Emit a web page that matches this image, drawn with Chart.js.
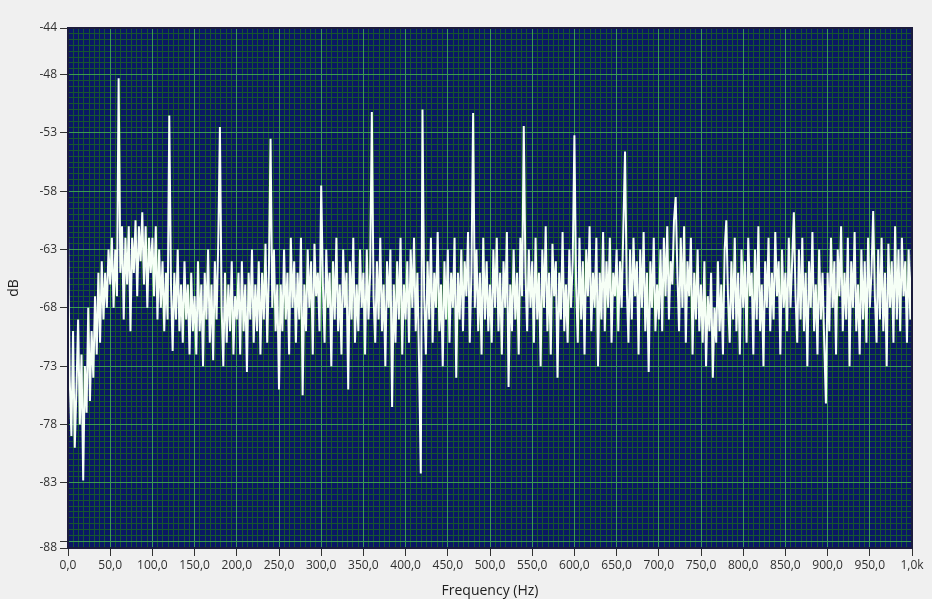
<!DOCTYPE html>
<html>
<head>
<meta charset="utf-8">
<script src="https://cdn.jsdelivr.net/npm/chart.js@4.4.0/dist/chart.umd.min.js"></script>
<style>
body { margin: 0; background: #f0f0f0; }
canvas { display: block; }
</style>
</head>
<body>
<canvas id="spectrumChart" width="932" height="599"></canvas>
<script>
// spectrum bins, 2 Hz apart, one row = 50 Hz
const binHz = 2;
const levelDb = [
    -61.5, -74, -79, -70, -80, -75, -69, -78, -72, -82.8, -73, -77, -68, -76, -70, -74, -67, -72, -65, -71, -64, -69, -65, -68, -63,
    -66, -62, -68, -63, -67, -48.3, -65, -61, -69, -62, -66, -61, -70, -62, -65, -60.5, -67, -61, -64, -59.8, -66, -61, -68, -62, -65,
    -62, -67, -61, -69, -63, -68, -64, -70, -65, -69, -51.5, -66, -71.7, -65, -69, -63, -70, -66, -71, -64, -69, -66, -72, -65, -70,
    -67, -72, -64, -70, -66, -73, -65, -69, -63, -71, -66, -72.5, -64, -69, -62.5, -52.5, -68, -73, -65, -71, -66, -70, -64, -72, -67,
    -69, -65, -72, -64, -70, -66, -73.5, -65, -69, -63, -71, -66, -70, -64, -72, -65, -69, -62.5, -71, -65, -53.5, -68, -63, -70, -66,
    -75, -66, -70, -63, -69, -65, -72, -62, -68, -64, -71, -65, -69, -62, -75.5, -66, -70, -63, -68, -64, -72, -62.5, -67, -65, -70,
    -57.5, -66, -71, -63, -68, -65, -73, -64, -69, -62, -70, -66, -72, -63, -68, -65, -75, -64, -69, -62, -71, -66, -70, -63, -68,
    -65, -72, -63, -69, -65, -51.2, -67, -71, -64, -69, -62, -70, -66, -73, -64, -68, -63, -76.5, -66, -71, -64, -69, -62, -72, -66,
    -69, -64, -71, -63, -68, -62, -70, -65, -73, -82.2, -51, -67, -72, -64, -69, -62, -71, -65, -68, -61.5, -70, -66, -73, -64, -69,
    -63, -71, -65, -68, -62, -74, -65, -69, -63, -70, -64, -67, -61.5, -71, -65, -51.3, -68, -63, -70, -65, -72, -62, -69, -64, -70,
    -66, -71, -63, -68, -62, -70, -65, -72, -64, -68, -61.5, -74.8, -66, -70, -63, -69, -65, -72, -62, -67, -52.4, -65, -70, -63, -68,
    -64, -71, -62, -69, -65, -73, -63, -68, -61, -70, -65, -72, -62.5, -67, -64, -74, -65, -69, -61.5, -70, -66, -71, -63, -68, -64,
    -53.2, -66, -71, -62, -69, -64, -72, -63, -67, -61, -70, -65, -68, -62, -73, -65, -69, -61.5, -70, -64, -68, -62, -71, -65, -67,
    -63, -70, -64, -68, -61, -54.6, -66, -71, -63, -69, -62, -67, -64, -72, -63, -68, -61.5, -70, -65, -73.5, -64, -68, -62, -70, -66,
    -69, -63, -70, -62, -67, -61, -69, -64, -66, -60.5, -58.5, -65, -70, -62, -68, -61, -71, -64, -67, -62, -72, -65, -69, -63, -70,
    -66, -71, -64, -73, -67, -70, -65, -74, -68, -71, -64, -70, -66, -72, -63, -60.5, -67, -71, -64, -69, -62, -70, -65, -72, -63,
    -68, -64, -71, -62, -67, -65, -72, -63, -69, -61, -70, -66, -73, -64, -68, -62, -70, -65, -69, -61.5, -67, -64, -72, -63, -68,
    -65, -70, -62, -68, -64, -59.8, -67, -71, -63, -69, -62, -70, -65, -73, -64, -68, -61.5, -70, -66, -72, -63, -69, -65, -71, -76.2,
    -65, -70, -62, -68, -64, -72, -63, -67, -61, -70, -65, -69, -62, -73, -64, -68, -61.5, -70, -66, -72, -63, -69, -64, -71, -62,
    -68, -65, -59.7, -67, -71, -63, -69, -62, -70, -65, -73, -62.5, -68, -64, -71, -61, -69, -63, -70, -62, -67, -64, -71, -63, -69,
    -63
];

const xTickValues = [0, 50, 100, 150, 200, 250, 300, 350, 400, 450, 500, 550, 600, 650, 700, 750, 800, 850, 900, 950, 1000];
const xTickLabels = ['0,0', '50,0', '100,0', '150,0', '200,0', '250,0', '300,0', '350,0', '400,0', '450,0', '500,0',
    '550,0', '600,0', '650,0', '700,0', '750,0', '800,0', '850,0', '900,0', '950,0', '1,0k'];
const yTickValues = [-88.6, -88, -83, -78, -73, -68, -63, -58, -53, -48, -44];
const yTickLabels = ['-88', '', '-83', '-78', '-73', '-68', '-63', '-58', '-53', '-48', '-44'];
const xMinorStep = 6.25;
const yMinorStep = 0.5;

const plotBg = '#0a1864';
const minorGrid = '#16562f';
const majorGrid = '#3b9b50';
const frameColor = '#1c1c3c';
const tickFont = { family: 'Open Sans', size: 12 };

function stepTicks(from, to, step) {
    let ticks = [];
    for (let v = from; v <= to + 1e-6; v += step) {
        ticks.push({ value: Math.round(v * 1000) / 1000 });
    }
    return ticks;
}

const plotBackground = {
    id: 'plotBackground',
    beforeDraw(chart) {
        const { ctx, chartArea } = chart;
        ctx.save();
        ctx.fillStyle = '#f0f0f0';
        ctx.fillRect(0, 0, chart.width, chart.height);
        ctx.fillStyle = plotBg;
        ctx.fillRect(chartArea.left, chartArea.top, chartArea.right - chartArea.left, chartArea.bottom - chartArea.top);
        ctx.restore();
    }
};

const points = levelDb.map((v, i) => ({ x: i * binHz, y: v }));

const ctx = document.getElementById('spectrumChart').getContext('2d');
const spectrumChart = new Chart(ctx, {
    type: 'line',
    data: {
        datasets: [{
                data: points,
                borderColor: '#f6fff6',
                borderWidth: 2,
                pointRadius: 0,
                tension: 0,
                xAxisID: 'x',
                yAxisID: 'y'
            }]
    },
    options: {
        responsive: false,
        animation: false,
        events: [],
        layout: {
            padding: { top: 28, right: 20, left: 0, bottom: 0 }
        },
        plugins: {
            legend: { display: false },
            tooltip: { enabled: false }
        },
        scales: {
            xMinor: {
                type: 'linear',
                position: 'top',
                min: 0,
                max: 1000,
                afterBuildTicks: s => { s.ticks = stepTicks(0, 1000, xMinorStep); },
                afterFit: s => { s.height = 0; },
                ticks: { display: false },
                grid: { color: minorGrid, drawTicks: false, z: -2 },
                border: { display: true, color: frameColor, width: 2, z: 1 }
            },
            yMinor: {
                type: 'linear',
                position: 'right',
                min: -88.6,
                max: -44,
                afterBuildTicks: s => { s.ticks = stepTicks(-88, -44, yMinorStep); },
                afterFit: s => { s.width = 0; },
                ticks: { display: false },
                grid: { color: minorGrid, drawTicks: false, z: -2 },
                border: { display: true, color: frameColor, width: 2, z: 1 }
            },
            x: {
                type: 'linear',
                position: 'bottom',
                min: 0,
                max: 1000,
                afterBuildTicks: s => { s.ticks = xTickValues.map(v => ({ value: v })); },
                afterFit: s => { s.height = 51; },
                ticks: {
                    autoSkip: false,
                    maxRotation: 0,
                    padding: 2,
                    color: '#303030',
                    font: tickFont,
                    callback: (value, index) => xTickLabels[index]
                },
                grid: { color: majorGrid, tickColor: '#333333', tickLength: 8, z: -1 },
                border: { display: true, color: frameColor, width: 2, z: 1 },
                title: {
                    display: true,
                    text: 'Frequency (Hz)',
                    color: '#202020',
                    font: { family: 'Open Sans', size: 14 },
                    padding: { top: 0, bottom: 0 }
                }
            },
            y: {
                type: 'linear',
                position: 'left',
                min: -88.6,
                max: -44,
                afterBuildTicks: s => { s.ticks = yTickValues.map(v => ({ value: v })); },
                afterFit: s => { s.width = 68; },
                ticks: {
                    autoSkip: false,
                    padding: 3,
                    color: '#303030',
                    font: tickFont,
                    callback: (value, index) => yTickLabels[index]
                },
                grid: { color: majorGrid, tickColor: '#333333', tickLength: 8, z: -1 },
                border: { display: true, color: frameColor, width: 2, z: 1 },
                title: {
                    display: true,
                    text: 'dB',
                    color: '#202020',
                    font: { family: 'Open Sans', size: 14 },
                    padding: { top: 6, bottom: 0 }
                }
            }
        }
    },
    plugins: [plotBackground]
});
</script>
</body>
</html>
